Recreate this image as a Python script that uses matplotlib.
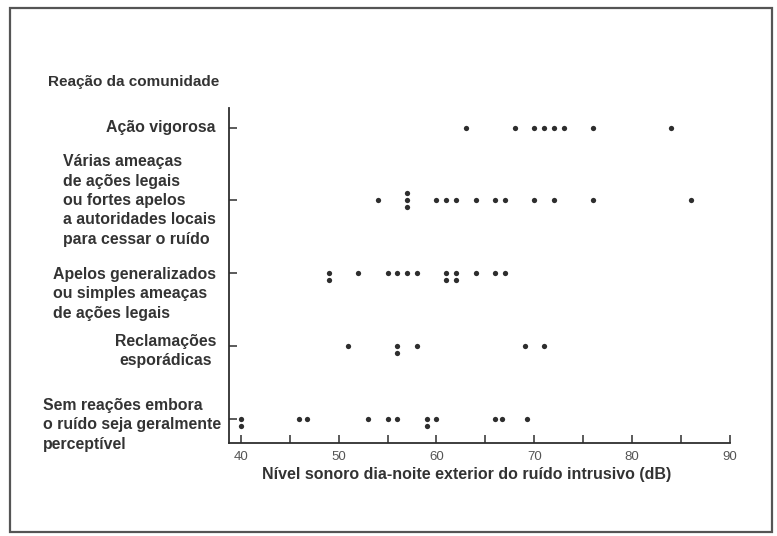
import numpy as np
import matplotlib
matplotlib.use("Agg")
import matplotlib.pyplot as plt
from matplotlib.patches import Rectangle
from matplotlib.transforms import blended_transform_factory

# dados (nivel sonoro dia-noite, dB), de baixo para cima
sem_reacao = [40, 40, 46, 46.8, 53, 55, 56, 59, 59, 60, 66, 66.7, 69.3]
reclamacoes = [51, 56, 56, 58, 69, 71]
apelos = [49, 49, 52, 55, 56, 57, 58, 61, 61, 62, 62, 64, 66, 67]
ameacas = [54, 57, 57, 57, 60, 61, 62, 64, 66, 67, 70, 72, 76, 86]
vigorosa = [63, 68, 70, 71, 72, 73, 76, 84]

series = [sem_reacao, reclamacoes, apelos, ameacas, vigorosa]

rotulos = [
    "Sem reações embora\no ruído seja geralmente\nperceptível",
    "Reclamações\nesporádicas",
    "Apelos generalizados\nou simples ameaças\nde ações legais",
    "Várias ameaças\nde ações legais\nou fortes apelos\na autoridades locais\npara cessar o ruído",
    "Ação vigorosa",
]
# deslocamento vertical do bloco de texto em relacao ao tick, e alinhamento
desloc = [-0.08, -0.07, -0.28, 0.0, 0.0]
alinh = ["left", "center", "left", "left", "left"]
xticks_major = [40, 50, 60, 70, 80, 90]
xticks_minor = [45, 55, 65, 75, 85]

W, H = 777, 536
fig = plt.figure(figsize=(W / 100, H / 100), dpi=100)
ax = fig.add_axes([229 / W, 1 - 443 / H, (730 - 229) / W, (443 - 108) / H])

cor = "#2e2e2e"
passo = 0.096
for i, vals in enumerate(series):
    vals = np.array(vals, dtype=float)
    ys = np.zeros_like(vals)
    for v in np.unique(vals):
        idx = np.where(vals == v)[0]
        n = len(idx)
        for k, j in enumerate(idx):
            ys[j] = i + ((n - 1) // 2 - k) * passo
    ax.plot(vals, ys, "o", color=cor, markersize=3.8, markeredgewidth=0)

ax.set_xlim(38.8, 90)
ax.set_ylim(-0.33, 4.27)
ax.set_xticks(xticks_major)
ax.set_xticks(xticks_minor, minor=True)
ax.set_xticklabels([str(t) for t in xticks_major], fontsize=9.5,
                   color="#555555", family="Liberation Sans")
ax.set_yticks(range(len(series)))
ax.set_yticklabels([])
ax.tick_params(axis="x", which="both", direction="in", length=6, width=1.1,
               color=cor, pad=6)
ax.tick_params(axis="y", direction="in", length=6, width=1.1, color=cor)
for s in ["top", "right"]:
    ax.spines[s].set_visible(False)
for s in ["left", "bottom"]:
    ax.spines[s].set_color(cor)
    ax.spines[s].set_linewidth(1.3)

trans = blended_transform_factory(fig.transFigure, ax.transData)
for i, txt in enumerate(rotulos):
    xr = 221 / W if i == 0 else 216 / W
    ax.text(xr, i + desloc[i], txt, transform=trans, ha="right", va="center",
            multialignment=alinh[i], fontsize=11.4, fontweight="bold",
            color="#333333", family="Liberation Sans", linespacing=1.36)

fig.text(48 / W, 1 - 82 / H, "Reação da comunidade", ha="left", va="center",
         fontsize=11, fontweight="bold", color="#333333", family="Liberation Sans")
fig.text(467 / W, 1 - 475 / H,
         "Nível sonoro dia-noite exterior do ruído intrusivo (dB)",
         ha="center", va="center", fontsize=11.5, fontweight="bold",
         color="#333333", family="Liberation Sans")

# moldura da figura
fig.patches.append(Rectangle((10 / W, 1 - 532 / H), (772 - 10) / W, (532 - 8) / H,
                             transform=fig.transFigure, fill=False,
                             edgecolor="#555555", linewidth=1.6))

fig.savefig("out.png", dpi=100)
